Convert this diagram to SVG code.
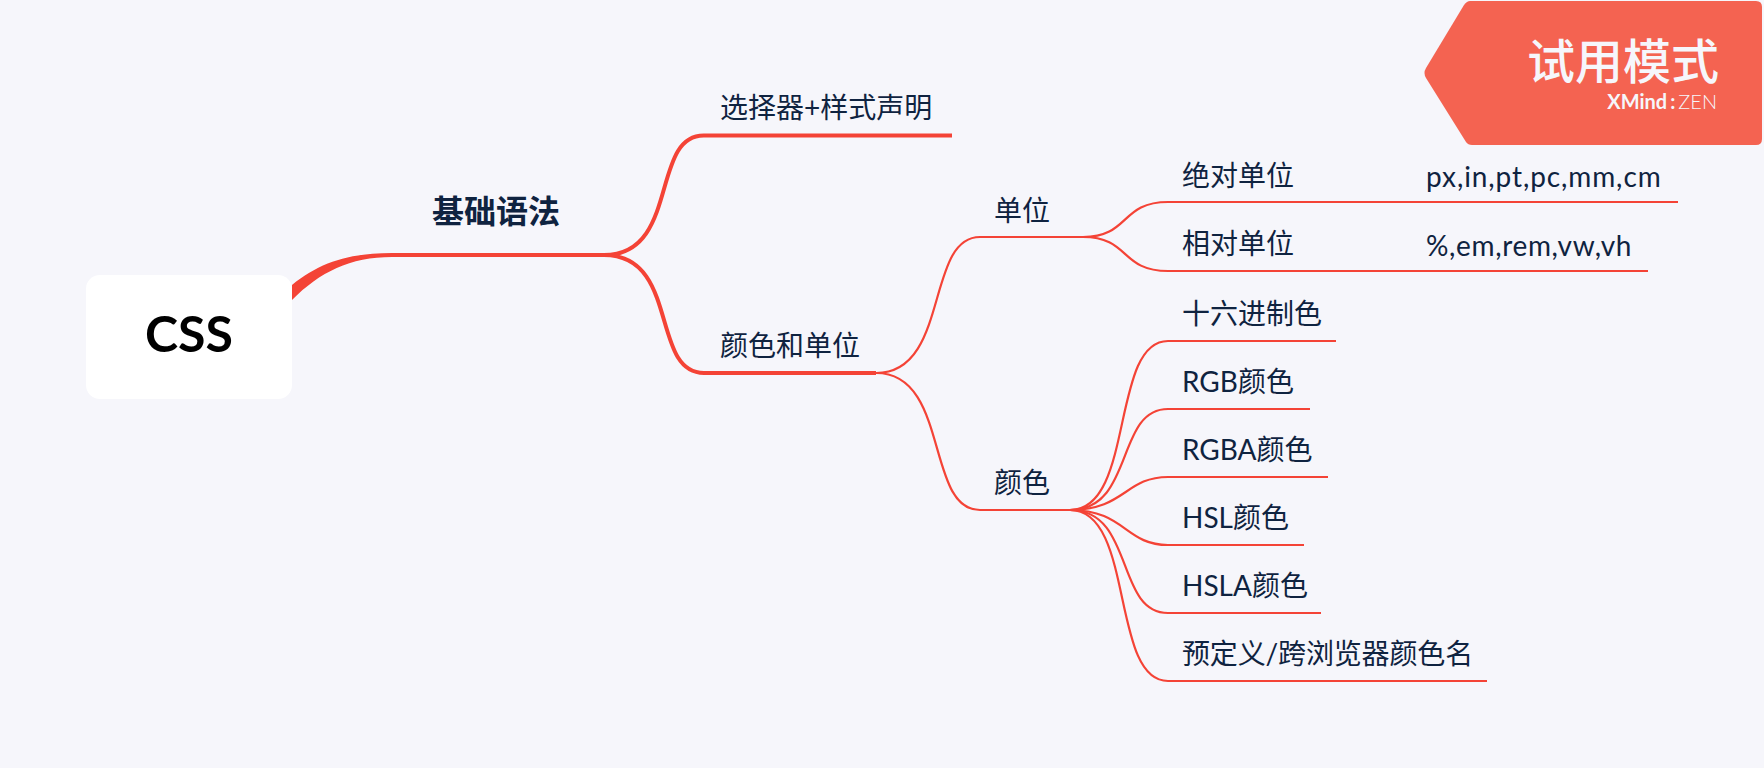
<svg xmlns="http://www.w3.org/2000/svg" width="1764" height="768" viewBox="0 0 1764 768">
<style>
text{font-family:Lato,"Noto Sans CJK SC",sans-serif;fill:#0f2340;font-size:28px}
.c{fill:none;stroke:#f44336;stroke-linecap:butt}
.t1{stroke-width:4}
.t2{stroke-width:2.2}
.t3{stroke-width:2}
.l{letter-spacing:.9px}
</style>
<rect width="1764" height="768" fill="#f6f6fb"/>
<g id="connectors">
<path d="M292 285C320 262 350 253 392 253L392 257C350 257 320 272 292 300Z" fill="#f44336"/>
<path class="c t1" d="M392 255H606"/>
<path class="c t1" d="M604 255C680 255 650 135 704 135.500H952"/>
<path class="c t1" d="M604 255C680 255 650 373 704 373H876"/>
<path class="c t2" d="M876 373C950 373 925 237 980 237H1083"/>
<path class="c t2" d="M876 373C950 373 925 510 980 510H1075"/>
<path class="c t2" d="M1083 237C1130 237 1120 202 1168 202H1307"/>
<path class="c t3" d="M1307 202H1412"/>
<path class="c t2" d="M1412 202H1678"/>
<path class="c t2" d="M1083 237C1130 237 1120 271 1168 271H1307"/>
<path class="c t3" d="M1307 271H1412"/>
<path class="c t2" d="M1412 271H1648"/>
<path class="c t2" d="M1070 510C1135 510 1110 341 1168 341H1336"/>
<path class="c t2" d="M1070 510C1135 510 1115 409 1168 409H1310"/>
<path class="c t2" d="M1070 510C1125 510 1125 477 1168 477H1328"/>
<path class="c t2" d="M1070 510C1125 510 1125 545 1168 545H1304"/>
<path class="c t2" d="M1070 510C1135 510 1115 613 1168 613H1321"/>
<path class="c t2" d="M1070 510C1135 510 1110 681 1168 681H1487"/>
</g>
<g id="root"><rect x="86" y="275" width="206" height="124" rx="14" fill="#fff"/><text x="189" y="352" text-anchor="middle" style="fill:#000;font-size:50px;font-weight:700">CSS</text></g>
<g id="n1"><text x="432" y="223" style="font-size:32px;font-weight:700">基础语法</text></g>
<g id="n2"><text x="720" y="118">选择器+样式声明</text></g>
<g id="n3"><text x="720" y="356">颜色和单位</text></g>
<g id="n4"><text x="994" y="221">单位</text></g>
<g id="n5"><text x="994" y="493">颜色</text></g>
<g id="n6"><text x="1182" y="186">绝对单位</text></g>
<g id="n7"><text x="1182" y="254">相对单位</text></g>
<g id="n8"><text x="1426" y="187" class="l">px,in,pt,pc,mm,cm</text></g>
<g id="n9"><text x="1426" y="256" style="letter-spacing:.65px">%,em,rem,vw,vh</text></g>
<g id="n10"><text x="1182" y="324">十六进制色</text></g>
<g id="n11"><text x="1182" y="392">RGB颜色</text></g>
<g id="n12"><text x="1182" y="460">RGBA颜色</text></g>
<g id="n13"><text x="1182" y="528">HSL颜色</text></g>
<g id="n14"><text x="1182" y="596">HSLA颜色</text></g>
<g id="n15"><text x="1182" y="664" style="letter-spacing:-.15px">预定义/跨浏览器颜色名</text></g>
<g id="badge">
<path d="M1470 1H1756Q1762 1 1762 7V139Q1762 145 1756 145H1472Q1468 145 1466 142L1426 78Q1423 73 1426 68L1464 5Q1467 1 1470 1Z" fill="#f46351"/>
<text x="1719" y="79" text-anchor="end" style="fill:#f6f6fb;font-size:48px;font-weight:500">试用模式</text>
<text x="1717" y="109" text-anchor="end" style="fill:#f6f6fb;font-size:20px;font-weight:700">XMind<tspan dx="3">:</tspan><tspan dx="3" style="font-weight:300">ZEN</tspan></text>
</g>
</svg>
